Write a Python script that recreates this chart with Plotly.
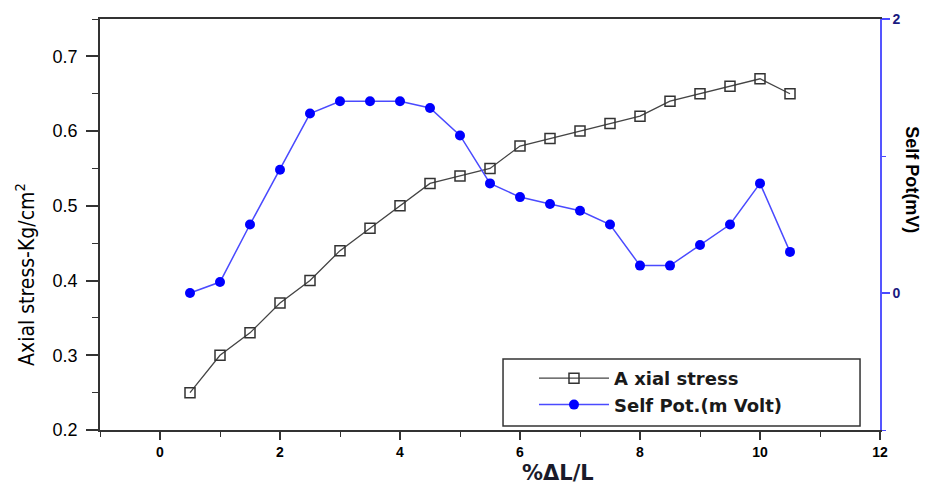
import plotly.graph_objects as go

strain = [0.5, 1, 1.5, 2, 2.5, 3, 3.5, 4, 4.5, 5, 5.5, 6, 6.5, 7, 7.5, 8, 8.5, 9, 9.5, 10, 10.5]
axial_stress = [0.25, 0.30, 0.33, 0.37, 0.40, 0.44, 0.47, 0.50, 0.53, 0.54, 0.55,
                0.58, 0.59, 0.60, 0.61, 0.62, 0.64, 0.65, 0.66, 0.67, 0.65]
self_pot = [0.0, 0.08, 0.50, 0.90, 1.31, 1.40, 1.40, 1.40, 1.35, 1.15, 0.80,
            0.70, 0.65, 0.60, 0.50, 0.20, 0.20, 0.35, 0.50, 0.80, 0.30]

x_ticks = [0, 2, 4, 6, 8, 10, 12]
y_ticks = [0.2, 0.3, 0.4, 0.5, 0.6, 0.7]
y2_ticks = [0, 2]

fig = go.Figure()
fig.add_trace(go.Scatter(
    x=strain, y=axial_stress, name="A xial stress", mode="lines+markers",
    legendgroup="a",
    line=dict(color="#444444", width=1.3),
    marker=dict(symbol="square-open", size=10, color="#333333", line=dict(width=1.5)),
))
fig.add_trace(go.Scatter(
    x=strain, y=self_pot, name="Self Pot.(m Volt)", mode="lines+markers", yaxis="y2",
    legendgroup="b",
    line=dict(color="#4a4aff", width=1.5),
    marker=dict(symbol="circle", size=10, color="#0000ff"),
))

fig.update_layout(
    width=932, height=486,
    margin=dict(l=100, r=52, t=19, b=56),
    plot_bgcolor="white", paper_bgcolor="white",
    font=dict(family="Liberation Sans, Arial, sans-serif", color="black"),
    xaxis=dict(
        range=[-1, 12], tickvals=x_ticks, ticks="outside", ticklen=8, tickwidth=1.5,
        tickcolor="#333333", showgrid=False, zeroline=False,
        showline=True, linecolor="#333333", linewidth=1.5, mirror=True,
        tickfont=dict(size=14, weight="bold", color="black"),
        minor=dict(dtick=1, tick0=1, ticks="outside", ticklen=5, tickcolor="#333333", tickwidth=1.2),
    ),
    yaxis=dict(
        range=[0.2, 0.75], tickvals=y_ticks, ticktext=["0.2", "0.3", "0.4", "0.5", "0.6", "0.7"],
        ticks="outside", ticklen=12, tickwidth=1.5, tickcolor="#333333",
        ticklabelstandoff=5,
        showgrid=False, zeroline=False, showline=True, linecolor="#333333", linewidth=1.5,
        tickfont=dict(size=18, color="black"),
        minor=dict(dtick=0.05, tick0=0.25, ticks="outside", ticklen=6, tickcolor="#333333", tickwidth=1.2),
    ),
    yaxis2=dict(
        overlaying="y", side="right", range=[-1, 2], tickvals=y2_ticks,
        ticks="outside", ticklen=8, tickwidth=1.5, tickcolor="#4a4aff",
        showgrid=False, zeroline=False, showline=True, linecolor="#5555ff", linewidth=1.5,
        tickfont=dict(size=14, weight="bold", color="#1a1a80"),
        minor=dict(dtick=1, tick0=-1, ticks="outside", ticklen=4, tickcolor="#4a4aff", tickwidth=1.2),
    ),
    legend=dict(
        x=0.5564, y=0.017, xanchor="left", yanchor="bottom",
        bgcolor="rgba(0,0,0,0)", borderwidth=0,
        font=dict(size=18, weight="bold", color="#1a1a1a",
                  family="DejaVu Sans, Verdana, sans-serif"),
        itemwidth=70, tracegroupgap=0,
    ),
    showlegend=True,
    shapes=[
        dict(type="rect", xref="paper", yref="paper",
             x0=0.5167, x1=0.9744, y0=0.0097, y1=0.1727,
             line=dict(color="#333333", width=1.5), fillcolor="white", layer="above"),
    ],
    annotations=[
        dict(text="Axial stress-Kg/cm<sup>2</sup>", xref="paper", yref="paper",
             x=-0.0962, y=0.3796, xanchor="center", yanchor="middle",
             textangle=-90, showarrow=False,
             font=dict(size=21, family="DejaVu Sans Condensed, sans-serif", color="black")),
        dict(text="Self Pot(mV)", xref="paper", yref="paper",
             x=1.041, y=0.608, xanchor="center", yanchor="middle",
             textangle=90, showarrow=False,
             font=dict(size=18, weight="bold", color="black")),
        dict(text="%ΔL/L", xref="paper", yref="paper",
             x=0.587, y=-0.105, xanchor="center", yanchor="middle", showarrow=False,
             font=dict(size=21, weight="bold", color="#1a1a2a",
                       family="DejaVu Sans, Verdana, sans-serif")),
    ],
)

fig.write_html("out.html")
